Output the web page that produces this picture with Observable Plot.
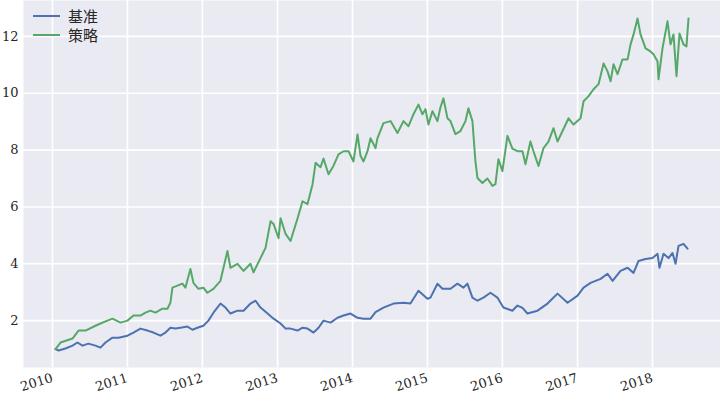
<!DOCTYPE html>
<html><head><meta charset="utf-8">
<script src="https://cdn.jsdelivr.net/npm/d3@7"></script>
<script src="https://cdn.jsdelivr.net/npm/@observablehq/plot@0.6"></script>
<style>
body{margin:0;background:#fff;}
#wrap{position:relative;width:720px;height:394px;overflow:hidden;}
.legend{position:absolute;left:33px;top:6px;font-family:"Noto Sans CJK SC","DejaVu Serif",serif;font-size:15px;color:#262626;line-height:19px;}
.legend .row{display:flex;align-items:center;height:19px;}
.legend .sw{display:inline-block;width:27px;height:2px;margin-right:8px;}
</style></head>
<body><div id="wrap"></div>
<script>
const seriesNames = ["基准", "策略"];
const seriesColors = ["#4C72B0", "#55A868"];
const yTicks = [2, 4, 6, 8, 10, 12];
const xTickYears = [2010, 2011, 2012, 2013, 2014, 2015, 2016, 2017, 2018];

const benchYears = [2010.04,2010.08,2010.173,2010.267,2010.333,2010.40,2010.48,2010.573,2010.64,2010.707,2010.80,2010.88,
2011.00,2011.08,2011.173,2011.267,2011.347,2011.44,2011.507,2011.573,2011.64,2011.707,2011.80,2011.867,2011.933,
2012.013,2012.08,2012.147,2012.24,2012.307,2012.373,2012.467,2012.547,2012.64,2012.707,2012.773,2012.867,2012.947,
2013.04,2013.107,2013.173,2013.267,2013.333,2013.40,2013.48,2013.547,2013.613,2013.707,2013.80,2013.88,2013.973,
2014.067,2014.147,2014.24,2014.307,2014.413,2014.547,2014.68,2014.773,2014.88,
2015.00,2015.04,2015.133,2015.20,2015.307,2015.40,2015.48,2015.533,2015.60,2015.667,2015.747,2015.84,2015.933,
2016.013,2016.133,2016.20,2016.267,2016.333,2016.467,2016.60,2016.733,2016.867,
2017.00,2017.08,2017.173,2017.307,2017.40,2017.467,2017.573,2017.667,2017.747,2017.813,2017.907,
2018.00,2018.067,2018.093,2018.147,2018.213,2018.267,2018.307,2018.347,2018.413,2018.467];
const benchValues = [1.00,0.95,1.02,1.12,1.23,1.12,1.19,1.12,1.05,1.23,1.40,1.40,
1.47,1.58,1.72,1.65,1.58,1.47,1.58,1.75,1.72,1.75,1.79,1.68,1.75,
1.82,2.00,2.28,2.60,2.46,2.25,2.35,2.35,2.60,2.70,2.46,2.25,2.07,
1.90,1.72,1.72,1.65,1.75,1.72,1.58,1.75,2.00,1.93,2.10,2.18,2.25,
2.10,2.07,2.07,2.30,2.46,2.60,2.63,2.60,3.05,
2.77,2.81,3.30,3.12,3.12,3.30,3.16,3.30,2.81,2.70,2.81,2.98,2.81,
2.46,2.35,2.53,2.45,2.25,2.35,2.60,2.95,2.63,
2.88,3.16,3.33,3.47,3.65,3.40,3.75,3.86,3.68,4.10,4.17,
4.20,4.35,3.86,4.35,4.20,4.38,4.00,4.63,4.70,4.53];

const stratYears = [2010.04,2010.107,2010.267,2010.347,2010.44,2010.573,2010.64,2010.733,2010.80,2010.907,
2011.00,2011.08,2011.173,2011.24,2011.307,2011.373,2011.467,2011.533,2011.573,2011.60,2011.667,2011.733,2011.773,2011.84,2011.88,2011.947,
2012.013,2012.067,2012.147,2012.24,2012.333,2012.373,2012.467,2012.547,2012.64,2012.68,2012.773,2012.84,2012.907,2012.947,
2013.013,2013.04,2013.107,2013.173,2013.267,2013.333,2013.40,2013.467,2013.507,2013.573,2013.613,2013.68,2013.747,2013.813,2013.88,2013.947,
2014.013,2014.067,2014.107,2014.147,2014.20,2014.24,2014.307,2014.333,2014.413,2014.507,2014.60,2014.68,2014.747,2014.813,2014.88,2014.933,2014.973,
2015.013,2015.067,2015.133,2015.173,2015.213,2015.267,2015.307,2015.373,2015.44,2015.507,2015.547,2015.60,2015.64,2015.667,2015.733,2015.80,2015.867,2015.907,2015.947,
2016.00,2016.067,2016.133,2016.20,2016.267,2016.307,2016.373,2016.413,2016.48,2016.547,2016.613,2016.68,2016.733,2016.80,2016.88,2016.947,
2017.04,2017.08,2017.147,2017.213,2017.28,2017.347,2017.40,2017.44,2017.48,2017.533,2017.60,2017.667,2017.707,2017.747,2017.80,2017.84,2017.907,2017.973,
2018.013,2018.067,2018.08,2018.133,2018.20,2018.24,2018.28,2018.32,2018.36,2018.413,2018.453,2018.48];
const stratValues = [1.00,1.23,1.37,1.65,1.65,1.82,1.90,2.00,2.07,1.93,
2.00,2.18,2.18,2.28,2.35,2.28,2.42,2.42,2.63,3.16,3.23,3.30,3.16,3.82,3.33,3.12,
3.16,2.98,3.12,3.40,4.45,3.86,4.00,3.75,4.00,3.70,4.20,4.56,5.50,5.40,
4.90,5.60,5.05,4.80,5.60,6.20,6.10,6.80,7.55,7.40,7.70,7.15,7.45,7.85,7.96,7.96,
7.60,8.55,7.80,7.60,7.96,8.42,8.07,8.42,8.95,9.02,8.60,9.02,8.84,9.26,9.60,9.26,9.44,
8.90,9.37,9.02,9.50,9.82,9.12,9.02,8.56,8.67,9.02,9.47,9.02,7.60,7.02,6.84,7.00,6.74,6.80,7.68,
7.26,8.50,8.05,7.96,7.96,7.50,8.30,7.96,7.44,8.07,8.30,8.77,8.30,8.67,9.12,8.90,
9.12,9.72,9.90,10.14,10.32,11.05,10.77,10.42,11.02,10.67,11.19,11.19,11.72,12.07,12.63,12.07,11.58,11.47,
11.37,11.12,10.49,11.58,12.53,11.72,12.07,10.60,12.10,11.72,11.65,12.63];

function toDate(y) {
  const yr = Math.floor(y);
  const s = Date.UTC(yr, 0, 1), e = Date.UTC(yr + 1, 0, 1);
  return new Date(s + (y - yr) * (e - s));
}

const data = [
  ...benchYears.map((y, i) => ({date: toDate(y), value: benchValues[i], series: seriesNames[0]})),
  ...stratYears.map((y, i) => ({date: toDate(y), value: stratValues[i], series: seriesNames[1]}))
];
const xTicks = xTickYears.map(y => new Date(Date.UTC(y, 0, 1)));

const chart = Plot.plot({
  width: 720, height: 394,
  marginLeft: 23, marginRight: 0, marginTop: 0, marginBottom: 27,
  style: {fontFamily: "DejaVu Serif, serif", fontSize: "13px", color: "#262626", background: "transparent", overflow: "visible"},
  x: {type: "utc", domain: [toDate(2009.613), toDate(2018.907)], label: null},
  y: {domain: [0.351, 13.263], label: null},
  color: {domain: seriesNames, range: seriesColors},
  marks: [
    Plot.frame({fill: "#EAEAF2", stroke: null}),
    Plot.gridX({ticks: xTicks, stroke: "white", strokeOpacity: 1, strokeWidth: 1.6}),
    Plot.gridY({ticks: yTicks, stroke: "white", strokeOpacity: 1, strokeWidth: 1.6}),
    Plot.axisY({ticks: yTicks, tickSize: 0, tickPadding: 5, label: null, fontSize: 13}),
    Plot.axisX({ticks: xTicks, tickFormat: d3.utcFormat("%Y"), tickSize: 0, tickPadding: 10, tickRotate: -17, label: null, fontSize: 13}),
    Plot.lineY(data, {x: "date", y: "value", stroke: "series", strokeWidth: 2, strokeLinejoin: "round"})
  ]
});

const wrap = document.getElementById("wrap");
wrap.appendChild(chart);
const legend = document.createElement("div");
legend.className = "legend";
seriesNames.forEach((n, i) => {
  const row = document.createElement("div");
  row.className = "row";
  const sw = document.createElement("span");
  sw.className = "sw";
  sw.style.background = seriesColors[i];
  const t = document.createElement("span");
  t.textContent = n;
  row.appendChild(sw); row.appendChild(t);
  legend.appendChild(row);
});
wrap.appendChild(legend);
</script>
</body></html>
